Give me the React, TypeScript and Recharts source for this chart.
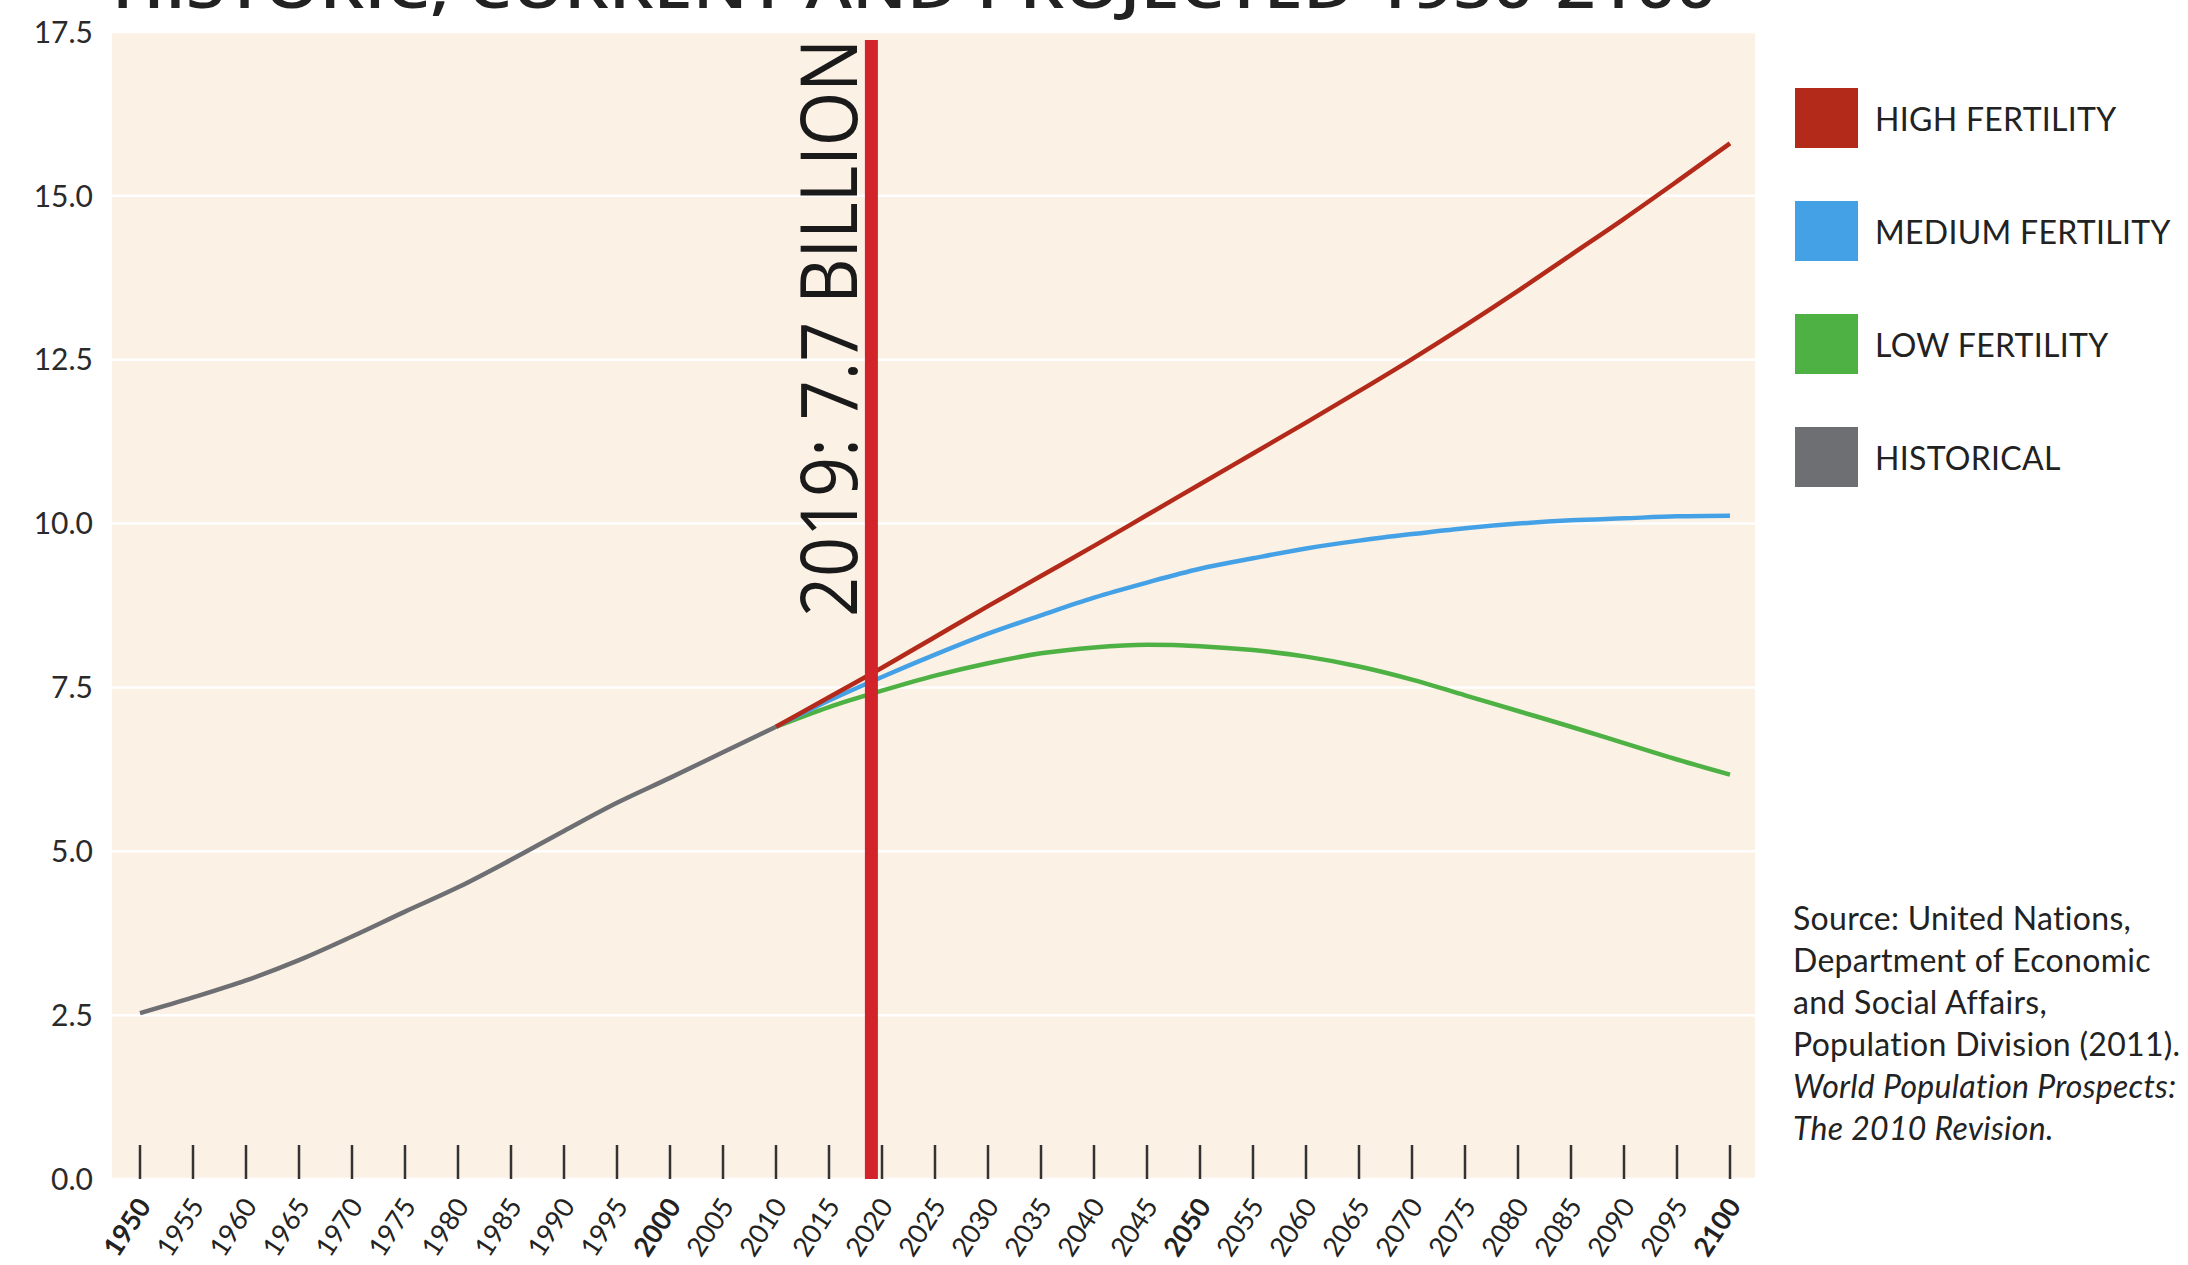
import React from 'react';
import { LineChart, Line, XAxis, YAxis, CartesianGrid, ReferenceLine, Legend } from 'recharts';

const years = [
  1950, 1955, 1960, 1965, 1970, 1975, 1980, 1985, 1990, 1995, 2000,
  2005, 2010, 2015, 2020, 2025, 2030, 2035, 2040, 2045, 2050,
  2055, 2060, 2065, 2070, 2075, 2080, 2085, 2090, 2095, 2100,
];

const historical = [
  2.53, 2.77, 3.03, 3.34, 3.7, 4.08, 4.45, 4.87, 5.31, 5.74, 6.12,
  6.51, 6.9, null, null, null, null, null, null, null, null,
  null, null, null, null, null, null, null, null, null, null,
];

const highFertility = [
  null, null, null, null, null, null, null, null, null, null, null,
  null, 6.9, 7.35, 7.8, 8.27, 8.74, 9.2, 9.66, 10.13, 10.6,
  11.07, 11.54, 12.02, 12.51, 13.02, 13.55, 14.1, 14.65, 15.22, 15.8,
];

const mediumFertility = [
  null, null, null, null, null, null, null, null, null, null, null,
  null, 6.9, 7.3, 7.66, 8.0, 8.32, 8.6, 8.87, 9.1, 9.31,
  9.47, 9.62, 9.74, 9.84, 9.93, 10.0, 10.05, 10.08, 10.11, 10.12,
];

const lowFertility = [
  null, null, null, null, null, null, null, null, null, null, null,
  null, 6.9, 7.2, 7.45, 7.68, 7.87, 8.02, 8.11, 8.15, 8.13,
  8.07, 7.97, 7.82, 7.62, 7.38, 7.14, 6.9, 6.65, 6.4, 6.17,
];

const yTicks = [0, 2.5, 5, 7.5, 10, 12.5, 15, 17.5];
const boldYears = [1950, 2000, 2050, 2100];

const legendItems = [
  { label: 'HIGH FERTILITY', color: '#b42a1a' },
  { label: 'MEDIUM FERTILITY', color: '#45a1e6' },
  { label: 'LOW FERTILITY', color: '#4db143' },
  { label: 'HISTORICAL', color: '#6e6f73' },
];

const sourceLines = [
  { text: 'Source: United Nations,', italic: false },
  { text: 'Department of Economic', italic: false },
  { text: 'and Social Affairs,', italic: false },
  { text: 'Population Division (2011).', italic: false },
  { text: 'World Population Prospects:', italic: true },
  { text: 'The 2010 Revision.', italic: true },
];

const markerYear = 2019;
const markerLabel = '2019: 7.7 BILLION';
const title = 'HISTORIC, CURRENT AND PROJECTED 1950-2100';

const data = years.map((year, i) => ({
  year,
  historical: historical[i],
  high: highFertility[i],
  medium: mediumFertility[i],
  low: lowFertility[i],
}));

const YearTick = (props: any) => {
  const { x, y, payload } = props;
  const bold = boldYears.includes(payload.value);
  const ax = x + 12;
  const ay = y + 27;
  return (
    <g>
      <line x1={x} x2={x} y1={y - 34} y2={y} stroke="#333" strokeWidth={2.5} />
      <text
        x={ax}
        y={ay}
        textAnchor="end"
        transform={`rotate(-57 ${ax} ${ay})`}
        fontSize={27}
        fontWeight={bold ? 700 : 400}
        fill="#222"
        fontFamily="Lato, sans-serif"
      >
        {payload.value}
      </text>
    </g>
  );
};

const MarkerLabel = (props: any) => {
  const { viewBox } = props;
  const x = viewBox.x - 14;
  const y = 617;
  return (
    <text
      x={x}
      y={y}
      transform={`rotate(-90 ${x} ${y})`}
      fontSize={78}
      fontFamily="'Open Sans', sans-serif"
      fill="#1a1a1a"
      textLength={578}
      lengthAdjust="spacingAndGlyphs"
    >
      {markerLabel}
    </text>
  );
};

const MarkerLine = (props: any) => {
  const { x1, y1, x2, y2 } = props;
  return <line x1={x1} y1={y1} x2={x2} y2={y2 + 8} stroke="#d2232a" strokeWidth={13} />;
};

const LegendBox = () => (
  <div style={{ fontFamily: 'Lato, sans-serif' }}>
    {legendItems.map((item) => (
      <div key={item.label} style={{ display: 'flex', alignItems: 'center', height: 60, marginBottom: 53 }}>
        <div style={{ width: 63, height: 60, background: item.color }} />
        <span style={{ marginLeft: 17, fontSize: 32, color: '#222', whiteSpace: 'nowrap', letterSpacing: 0.3 }}>
          {item.label}
        </span>
      </div>
    ))}
  </div>
);

export default function App() {
  return (
    <div
      style={{
        position: 'absolute',
        left: 0,
        top: 0,
        width: 2188,
        height: 1265,
        overflow: 'hidden',
        background: '#fff',
        fontFamily: 'Lato, sans-serif',
      }}
    >
      <svg width={2188} height={40} style={{ position: 'absolute', left: 0, top: 0 }}>
        <text
          x={112}
          y={8}
          fontSize={60}
          fontWeight={600}
          fontFamily="'Open Sans', sans-serif"
          fill="#222"
          textLength={1604}
          lengthAdjust="spacingAndGlyphs"
        >
          {title}
        </text>
      </svg>
      <LineChart
        width={2188}
        height={1265}
        data={data}
        margin={{ top: 32, right: 433, bottom: 0, left: 0 }}
      >
        <CartesianGrid vertical={false} stroke="#ffffff" strokeWidth={2.5} fill="#fcf1e5" fillOpacity={1} />
        <XAxis
          dataKey="year"
          type="number"
          domain={[1950, 2100]}
          ticks={years}
          interval={0}
          padding={{ left: 28, right: 25 }}
          axisLine={false}
          tickLine={false}
          tickSize={0}
          tickMargin={0}
          height={86}
          tick={<YearTick />}
        />
        <YAxis
          type="number"
          domain={[0, 17.5]}
          ticks={yTicks}
          width={112}
          axisLine={false}
          tickLine={false}
          tickSize={0}
          tickMargin={19}
          tickFormatter={(v: number) => v.toFixed(1)}
          tick={{ fontSize: 30, fill: '#2a2a2a', fontFamily: 'Lato, sans-serif' }}
        />
        <Line type="monotone" dataKey="historical" stroke="#6e6f73" strokeWidth={4.5} dot={false} isAnimationActive={false} />
        <Line type="monotone" dataKey="low" stroke="#4db143" strokeWidth={4.5} dot={false} isAnimationActive={false} />
        <Line type="monotone" dataKey="medium" stroke="#45a1e6" strokeWidth={4.5} dot={false} isAnimationActive={false} />
        <Line type="monotone" dataKey="high" stroke="#b42a1a" strokeWidth={4.5} dot={false} isAnimationActive={false} />
        <ReferenceLine x={markerYear} shape={<MarkerLine />} label={<MarkerLabel />} />
        <Legend
          layout="vertical"
          align="center"
          verticalAlign="middle"
          content={<LegendBox />}
          wrapperStyle={{ left: 1795, top: 88, width: 393 }}
        />
      </LineChart>
      <div
        style={{
          position: 'absolute',
          left: 1793,
          top: 897,
          fontSize: 32,
          lineHeight: '42px',
          letterSpacing: 0.3,
          color: '#222',
          whiteSpace: 'nowrap',
          fontFamily: 'Lato, sans-serif',
        }}
      >
        {sourceLines.map((line) => (
          <div key={line.text} style={{ fontStyle: line.italic ? 'italic' : 'normal' }}>
            {line.text}
          </div>
        ))}
      </div>
    </div>
  );
}
